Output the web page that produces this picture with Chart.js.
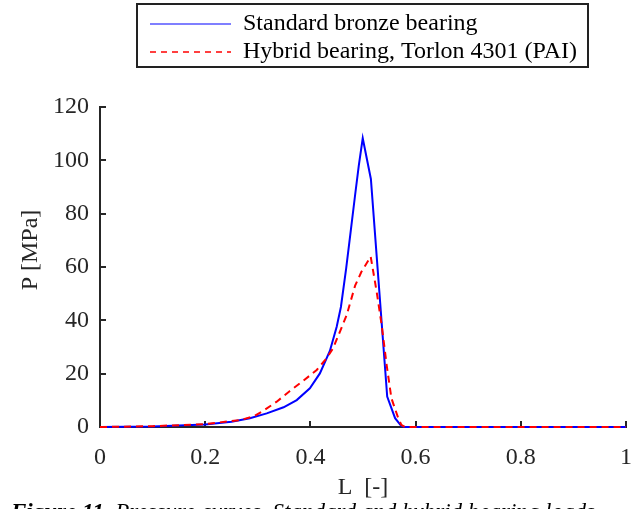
<!DOCTYPE html>
<html>
<head>
<meta charset="utf-8">
<script src="https://cdn.jsdelivr.net/npm/chart.js@4/dist/chart.umd.min.js"></script>
<style>
  html, body { margin: 0; padding: 0; background: #fff; }
  body { width: 639px; height: 509px; overflow: hidden; position: relative; }
  #wrap { position: absolute; left: 0; top: 0; width: 639px; height: 509px; }
  #caption {
    position: absolute; left: 11px; top: 500px; white-space: nowrap;
    font-family: "Liberation Serif", "Times New Roman", serif; font-style: italic;
    font-size: 23px; color: #000; line-height: 1;
  }
  #caption b { font-weight: bold; }
</style>
</head>
<body>
<div id="wrap"><canvas id="c" width="639" height="509"></canvas></div>
<div id="caption"><b>Figure 11.</b> Pressure curves. Standard and hybrid bearing loads</div>
<script>
// ---- data ----
const seriesNames = ['Standard bronze bearing', 'Hybrid bearing, Torlon 4301 (PAI)'];

const lengthBronze   = [0, 0.1, 0.2, 0.25, 0.285, 0.317, 0.349, 0.374, 0.399, 0.418, 0.437, 0.450, 0.458, 0.468, 0.477, 0.485, 0.492, 0.4995, 0.515, 0.546, 0.561, 0.573, 0.58, 1];
const pressureBronze = [0, 0.2, 0.9, 2.0, 3.3, 5.1, 7.4, 10.1, 14.5, 20.1, 28.5, 37.6, 45, 59.5, 74, 87, 98, 108.3, 93, 11.4, 3.3, 0.3, 0, 0];

const lengthHybrid   = [0, 0.1, 0.2, 0.266, 0.291, 0.31, 0.336, 0.361, 0.387, 0.412, 0.431, 0.443, 0.456, 0.469, 0.485, 0.497, 0.5146, 0.526, 0.5355, 0.545, 0.554, 0.567, 0.573, 0.58, 1];
const pressureHybrid = [0, 0.3, 1.1, 2.6, 3.9, 6.0, 9.5, 13.5, 17.4, 21.4, 25.8, 29.5, 35.7, 42, 53, 58.2, 63.9, 50.7, 38.2, 23.2, 10.8, 3.3, 0.75, 0, 0];

const xTickValues = [0, 0.2, 0.4, 0.6, 0.8, 1];
const xTickLabels = ['0', '0.2', '0.4', '0.6', '0.8', '1'];
const yTickValues = [0, 20, 40, 60, 80, 100, 120];
const yTickLabels = ['0', '20', '40', '60', '80', '100', '120'];

const xTitle = 'L  [-]';
const yTitle = 'P [MPa]';

// ---- chart ----
const SERIF = '"Liberation Serif", "Times New Roman", serif';
const AXIS = '#262626';

function pairs(xs, ys) { return xs.map((x, i) => ({ x: x, y: ys[i] })); }

const tickMarks = {
  id: 'tickMarks',
  beforeDatasetsDraw(chart) {
    const { ctx, chartArea, scales } = chart;
    ctx.save();
    ctx.strokeStyle = AXIS;
    ctx.lineWidth = 2;
    ctx.beginPath();
    xTickValues.forEach(v => {
      const px = Math.round(scales.x.getPixelForValue(v));
      ctx.moveTo(px, chartArea.bottom);
      ctx.lineTo(px, chartArea.bottom - 6);
    });
    yTickValues.forEach(v => {
      const py = Math.round(scales.y.getPixelForValue(v));
      ctx.moveTo(chartArea.left, py);
      ctx.lineTo(chartArea.left + 6, py);
    });
    ctx.stroke();
    ctx.restore();
  }
};

// y-axis title drawn by the scale, shifted up a little as in the reference
const yTitleShift = {
  id: 'yTitleShift',
  beforeDraw(chart) {
    const y = chart.scales.y;
    y._origTitle = y._origTitle || y.drawTitle;
    y.drawTitle = function () {
      const ctx = this.ctx;
      ctx.save();
      ctx.translate(0, -17);
      y._origTitle.call(this);
      ctx.restore();
    };
  }
};

const legendFrame = {
  id: 'legendFrame',
  afterLayout(chart) {
    const lg = chart.legend;
    if (!lg) return;
    const w = lg.width, h = lg.height;
    lg.left = 146; lg.top = 8;
    lg.right = lg.left + w; lg.bottom = lg.top + h;
  },
  afterDraw(chart) {
    const ctx = chart.ctx;
    ctx.save();
    ctx.strokeStyle = '#222';
    ctx.lineWidth = 2;
    ctx.strokeRect(137, 4, 451, 63);
    ctx.restore();
  }
};

new Chart(document.getElementById('c'), {
  type: 'line',
  data: {
    datasets: [
      {
        label: seriesNames[0],
        data: pairs(lengthBronze, pressureBronze),
        borderColor: '#0000ff',
        backgroundColor: '#0000ff',
        borderWidth: 2,
        pointRadius: 0,
        tension: 0,
        clip: 4,
        order: 1
      },
      {
        label: seriesNames[1],
        data: pairs(lengthHybrid, pressureHybrid),
        borderColor: '#ff0000',
        backgroundColor: '#ff0000',
        borderWidth: 2,
        borderDash: [7, 5],
        pointRadius: 0,
        tension: 0,
        clip: 4,
        order: 0
      }
    ]
  },
  options: {
    responsive: false,
    animation: false,
    events: [],
    layout: { padding: { left: 0, right: 13, top: 107, bottom: 0 } },
    plugins: {
      tooltip: { enabled: false },
      legend: {
        position: 'chartArea',
        align: 'start',
        labels: {
          usePointStyle: true,
          pointStyle: 'line',
          pointStyleWidth: 81,
          padding: 4,
          color: '#111',
          font: { family: SERIF, size: 24 },
          generateLabels(chart) {
            return chart.data.datasets.map((ds, i) => ({
              text: ds.label,
              datasetIndex: i,
              strokeStyle: ds.borderColor,
              fillStyle: ds.borderColor,
              lineWidth: i === 0 ? 1.2 : 1.6,
              lineDash: i === 0 ? [] : [6, 5],
              pointStyle: 'line',
              hidden: false
            }));
          }
        }
      }
    },
    scales: {
      x: {
        type: 'linear',
        min: 0, max: 1,
        afterFit(s) { s.height = 82; s.paddingLeft = 0; s.paddingRight = 0; },
        afterBuildTicks(s) { s.ticks = xTickValues.map(v => ({ value: v })); },
        ticks: {
          autoSkip: false,
          maxRotation: 0,
          padding: 16,
          color: AXIS,
          font: { family: SERIF, size: 24 },
          callback(v) { const i = xTickValues.indexOf(v); return i >= 0 ? xTickLabels[i] : ''; }
        },
        grid: { display: false, drawTicks: false },
        border: { display: true, color: AXIS, width: 2 },
        title: {
          display: true, text: xTitle, color: AXIS,
          font: { family: SERIF, size: 24 },
          padding: { top: 0, bottom: 7 }
        }
      },
      y: {
        type: 'linear',
        min: 0, max: 120,
        afterFit(s) { s.width = 100; },
        afterBuildTicks(s) { s.ticks = yTickValues.map(v => ({ value: v })); },
        ticks: {
          autoSkip: false,
          padding: 11,
          color: AXIS,
          font: { family: SERIF, size: 24 },
          callback(v) { const i = yTickValues.indexOf(v); return i >= 0 ? yTickLabels[i] : ''; }
        },
        grid: { display: false, drawTicks: false },
        border: { display: true, color: AXIS, width: 2 },
        title: {
          display: true, text: yTitle, color: AXIS,
          font: { family: SERIF, size: 24 },
          padding: { top: 16, bottom: 0 }
        }
      }
    }
  },
  plugins: [tickMarks, legendFrame, yTitleShift]
});
</script>
</body>
</html>
